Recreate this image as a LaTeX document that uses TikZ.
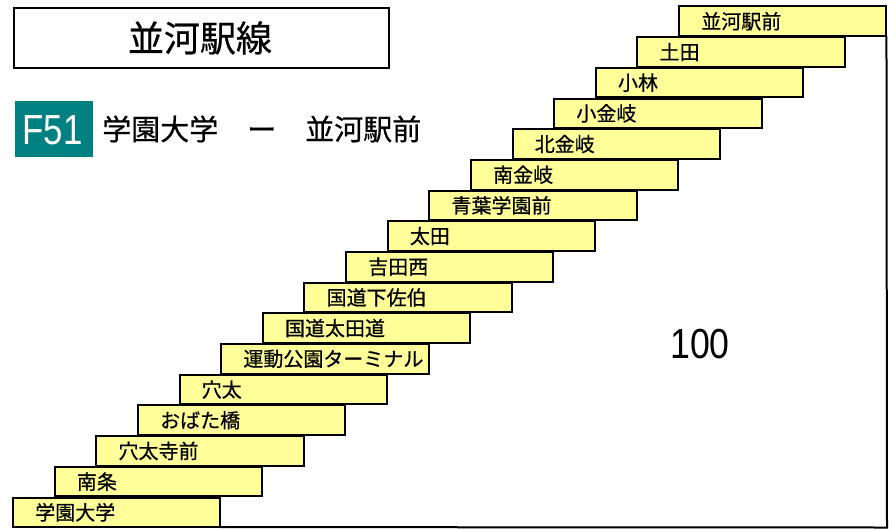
\documentclass[tikz,border=0pt]{standalone}
\usepackage{fontspec}
\setmainfont{Noto Sans CJK JP}[FakeBold=0.6]
\newfontfamily\latinf{Liberation Sans}
\definecolor{stepfill}{HTML}{FFFF99}
\definecolor{teal51}{HTML}{008080}
\begin{document}
\begin{tikzpicture}[x=0.75pt,y=-0.75pt,
  stepbox/.style={draw=black,line width=1.5pt,fill=stepfill,rectangle,
    minimum width=155.6pt,minimum height=22.2pt,inner sep=0pt,outer sep=0pt,anchor=north west},
  steptext/.style={anchor=west,inner sep=0pt,font=\fontsize{15pt}{18pt}\selectfont},
  edge/.style={draw=black,line width=1.5pt}]
\useasboundingbox (0,0) rectangle (893,529);
% title
\node[draw=black,line width=1.5pt,minimum width=281pt,minimum height=45.5pt,inner sep=0pt,anchor=north west] (title) at (13,6.5) {};
\node[font=\fontsize{27pt}{30pt}\selectfont] (titletext) at (200,38) {並河駅線};
% line badge
\node[fill=teal51,minimum width=58.5pt,minimum height=42pt,inner sep=0pt,anchor=north west] (badge) at (15,101) {};
\node[text=white,font=\latinf\fontsize{31.5pt}{34pt}\selectfont] (badgetext) at (52.5,130) {\scalebox{0.83}[1]{F51}};
\node[anchor=west,inner sep=0pt,font=\fontsize{21.75pt}{24pt}\selectfont] (route) at (102,129) {学園大学　ー　並河駅前};
% steps
\foreach \nm [count=\i from 0] in {学園大学,南条,穴太寺前,おばた橋,穴太,運動公園ターミナル,国道太田道,国道下佐伯,吉田西,太田,青葉学園前,南金岐,北金岐,小金岐,小林,土田,並河駅前}{
  \node[stepbox] (s\i) at ({13+41.625*\i},{497.5-30.69*\i}) {};
  \node[steptext] (t\i) at ([xshift=16.5pt]s\i.west) {\nm};
}
\coordinate (corner) at (887,527.5);
\draw[edge] (s16.south east) -- (corner) -- (s0.south east);
\node[font=\latinf\fontsize{31.5pt}{34pt}\selectfont] (count) at (700,344) {\scalebox{0.85}[1]{100}};
\end{tikzpicture}
\end{document}
